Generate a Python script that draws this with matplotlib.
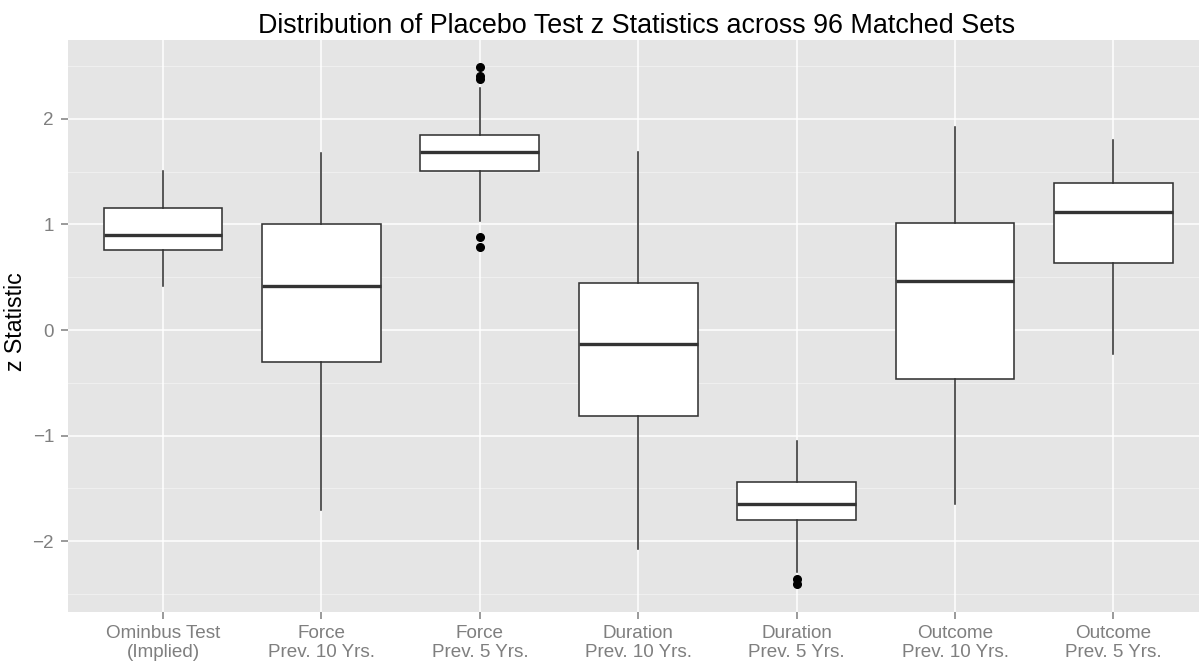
import matplotlib
matplotlib.use("Agg")
import matplotlib.pyplot as plt

plt.rcParams['font.family'] = ['Liberation Sans', 'DejaVu Sans']

# box statistics
labels = ["Ominbus Test\n(Implied)", "Force\nPrev. 10 Yrs.", "Force\nPrev. 5 Yrs.",
          "Duration\nPrev. 10 Yrs.", "Duration\nPrev. 5 Yrs.",
          "Outcome\nPrev. 10 Yrs.", "Outcome\nPrev. 5 Yrs."]
whishi = [1.51, 1.676, 2.29, 1.69, -1.051, 1.92, 1.80]
q3 = [1.155, 1.0, 1.844, 0.448, -1.436, 1.01, 1.389]
med = [0.90, 0.42, 1.69, -0.13, -1.65, 0.464, 1.114]
q1 = [0.755, -0.30, 1.51, -0.818, -1.80, -0.464, 0.632]
whislo = [0.417, -1.705, 1.03, -2.077, -2.29, -1.648, -0.227]
fliers = [[], [], [2.49, 2.405, 2.375, 0.88, 0.786], [], [-2.36, -2.405], [], []]

stats = []
for i in range(len(labels)):
    stats.append({"label": labels[i], "med": med[i], "q1": q1[i], "q3": q3[i],
                  "whislo": whislo[i], "whishi": whishi[i], "fliers": fliers[i]})

fig = plt.figure(figsize=(11.99, 6.63), dpi=100)
ax = fig.add_axes([68 / 1199, 1 - 611.7 / 663, 1 - 68 / 1199, (611.7 - 40) / 663])
ax.set_facecolor("#E5E5E5")

# grid like ggplot's theme_grey
for y in [-2.5, -1.5, -0.5, 0.5, 1.5, 2.5]:
    ax.axhline(y, color="#F2F2F2", lw=0.6, zorder=0)
for y in [-2, -1, 0, 1, 2]:
    ax.axhline(y, color="white", lw=1.1, zorder=0)
for x in range(1, len(labels) + 1):
    ax.axvline(x, color="white", lw=1.1, zorder=0)

ax.bxp(stats, positions=range(1, len(labels) + 1), widths=0.75, patch_artist=True,
       showcaps=False,
       boxprops=dict(facecolor="white", edgecolor="#333333", linewidth=1.15),
       whiskerprops=dict(color="#333333", linewidth=1.15),
       medianprops=dict(color="#333333", linewidth=2.4, solid_capstyle="butt"),
       flierprops=dict(marker="o", markerfacecolor="black", markeredgecolor="black",
                       markersize=5.5))

ax.set_xlim(0.4, 7.54)
ax.set_ylim(-2.667, 2.746)
ax.set_yticks([-2, -1, 0, 1, 2])
ax.set_yticklabels(["\u22122", "\u22121", "0", "1", "2"])
ax.set_xticks(range(1, len(labels) + 1))
ax.set_xticklabels(labels, linespacing=1.2)
for s in ax.spines.values():
    s.set_visible(False)
ax.tick_params(axis="both", colors="#7F7F7F", labelcolor="#7F7F7F", length=5,
               width=1.1, labelsize=13.6)
ax.tick_params(axis="x", pad=4.5)
ax.tick_params(axis="y", pad=5)

fig.text(16 / 1199, 1 - 322 / 663, "z Statistic", rotation=90, ha="center", va="center",
         fontsize=16.7, color="black")
fig.text(637 / 1199, 1 - 33 / 663, "Distribution of Placebo Test z Statistics across 96 Matched Sets",
         ha="center", va="baseline", fontsize=19.4, color="black")

fig.savefig("out.png", dpi=100)
